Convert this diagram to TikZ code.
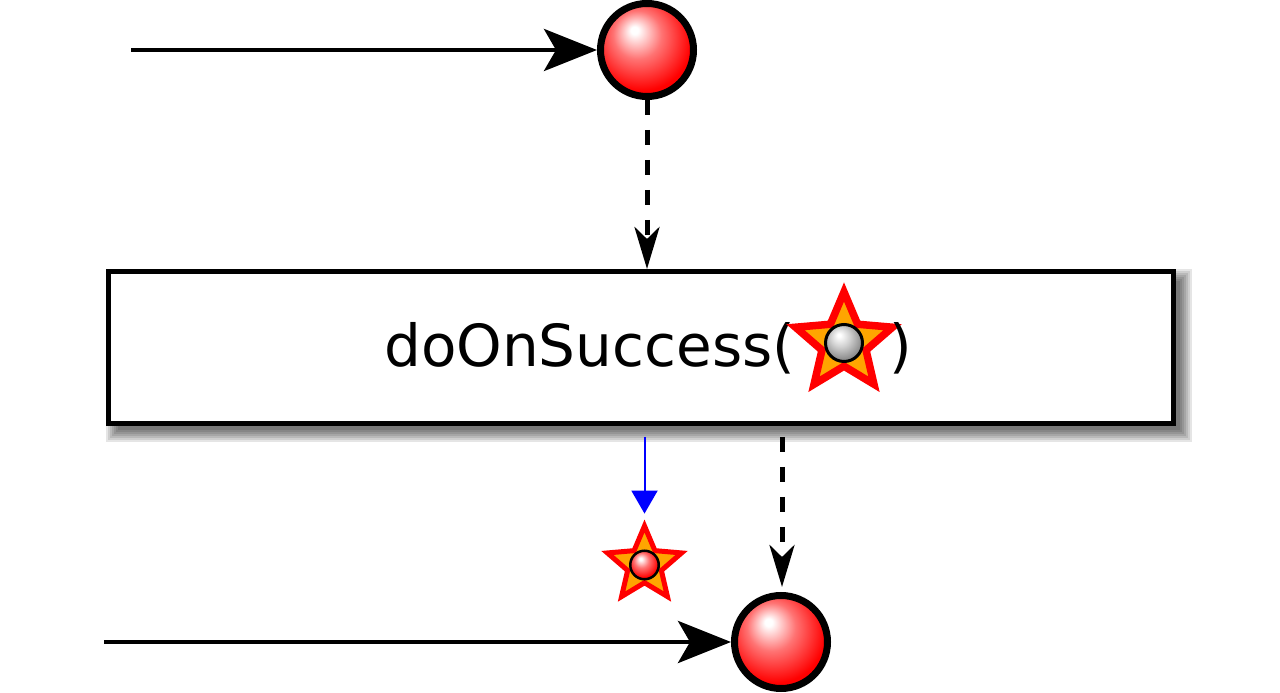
\documentclass[tikz,border=0pt]{standalone}
\usepackage{fontspec}
\setmainfont{DejaVu Sans}
\usetikzlibrary{shapes,arrows.meta,positioning}
\pgfdeclarelayer{shadows}
\pgfsetlayers{shadows,main}
\definecolor{starfill}{RGB}{255,165,0}
\pgfdeclareradialshading{redball}{\pgfpoint{-7bp}{11bp}}{color(0bp)=(white); color(2bp)=(white); color(13bp)=(red!55!white); color(27bp)=(red); color(50bp)=(red)}
\pgfdeclareradialshading{greyball}{\pgfpoint{-7bp}{11bp}}{color(0bp)=(white); color(2bp)=(white); color(13bp)=(black!18); color(27bp)=(black!45); color(50bp)=(black!45)}
\tikzstyle{marble}=[circle,draw=black,line width=7pt,shading=redball,minimum size=93pt,inner sep=0pt]
\tikzstyle{minimarble}=[circle,draw=black,inner sep=0pt]
\tikzstyle{operator}=[rectangle,fill=white,draw=black,line width=5pt,minimum width=1065pt,minimum height=152pt]
\tikzstyle{argstar}=[star,star points=5,star point ratio=2.2,fill=starfill,draw=red,line width=7.5pt,minimum size=102pt,inner sep=0pt]
\tikzstyle{resultstar}=[argstar,line width=5pt,minimum size=78pt]
\tikzstyle{opfont}=[font=\fontsize{58}{70}\selectfont,anchor=base west,inner sep=0pt]
\tikzstyle{timeline}=[line width=4.5pt,-{Stealth[length=53pt,width=42pt,inset=12pt]}]
\tikzstyle{flow}=[line width=5pt,dash pattern=on 15pt off 15pt,-{Stealth[length=42pt,width=25pt,inset=12pt]}]
\tikzstyle{emit}=[line width=2pt,blue,-{Triangle[length=23pt,width=26pt]}]

\begin{document}
\begin{tikzpicture}[x=1pt,y=1pt]
	\useasboundingbox (0,0) rectangle (1280,693);

	% source
	\coordinate (instart) at (131,643);
	\node[marble] (inball) at (647,643) {};

	% operator
	\node[operator] (op) at (641,345.5) {};
	\node[opfont] (opname) at (384,326) {doOnSuccess(};
	\node[argstar] (arg) at (844,350) {};
	\node[minimarble,line width=3pt,minimum size=37pt,shading=greyball] (argball) at (arg) {};
	\node[opfont] (opclose) at (889,326) {)};

	% result
	\node[resultstar] (result) at (644.5,128) {};
	\node[minimarble,line width=2.5pt,minimum size=28.5pt,shading=redball] (resultball) at (result) {};
	\coordinate (outstart) at (104,51);
	\node[marble] (outball) at (781,51) {};

	\begin{pgfonlayer}{shadows}
		\foreach \g in {0,2,...,12}
			\fill[black,opacity=0.1] ([shift={(12-\g,-4-\g)}]op.south west) rectangle ([shift={(4+\g,-12+\g)}]op.north east);
	\end{pgfonlayer}

	% Connections
	\draw[timeline] (instart) -- (inball);
	\draw[flow] (inball.south) -- (inball.south |- op.north);
	\draw[emit,shorten <=11pt] (op.south -| result) -- ([yshift=6pt]result.north);
	\draw[flow,shorten <=11pt,shorten >=5pt] ([xshift=1pt]op.south -| outball) -- ([xshift=1pt]outball.north);
	\draw[timeline] (outstart) -- (outball);
\end{tikzpicture}
\end{document}
